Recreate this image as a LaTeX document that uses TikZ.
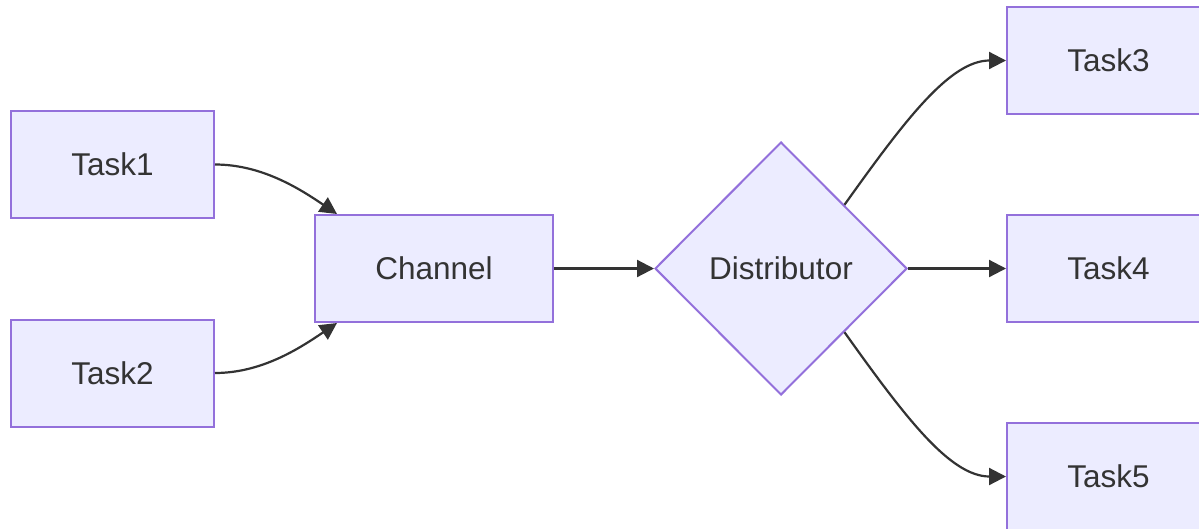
\documentclass[tikz,border=0pt]{standalone}
\usepackage{fontspec}
\setmainfont{Liberation Sans}
\usepackage{xcolor}
\usepackage{tikz}
\usetikzlibrary{shapes,arrows.meta}
\definecolor{boxfill}{HTML}{ECECFF}
\definecolor{boxline}{HTML}{9370DB}
\definecolor{edgeline}{HTML}{333333}
\tikzset{>={Triangle[length=17pt,width=17pt]}}
\tikzset{
    taskbox/.style={
        draw=boxline,
        fill=boxfill,
        line width=2pt,
        minimum width=203pt,
        minimum height=107pt,
        inner sep=0pt,
    },
    chanbox/.style={
        taskbox,
        minimum width=238pt,
    },
    distbox/.style={
        draw=boxline,
        fill=boxfill,
        line width=2pt,
        diamond,
        aspect=1,
        minimum width=252pt,
        minimum height=253pt,
        inner sep=0pt,
    },
    flow/.style={
        ->,
        draw=edgeline,
        line width=2.2pt,
    },
}

\begin{document}
\begin{tikzpicture}[x=1pt, y=-1pt, font=\fontsize{31.5}{38}\selectfont, text=edgeline]
        \useasboundingbox (0,0) rectangle (1199,528);

        % producers
        \node[taskbox] (task1) at (112.5,164.5) {Task1};
        \node[taskbox] (task2) at (112.5,373) {Task2};

        % channel and distributor
        \node[chanbox] (channel) at (434,268.5) {Channel};
        \node[distbox] (distributor) at (781,268.5) {Distributor};

        % consumers
        \node[taskbox] (task3) at (1108.5,60.5) {Task3};
        \node[taskbox] (task4) at (1108.5,268.5) {Task4};
        \node[taskbox] (task5) at (1108.5,476.5) {Task5};

        % edges
        \draw[flow] (task1.east) .. controls (262,164.5) and (300,189) .. ([xshift=23pt]channel.north west);
        \draw[flow] (task2.east) .. controls (262,373) and (300,348) .. ([xshift=23pt]channel.south west);
        \draw[flow] (channel.east) -- (distributor.west);
        \draw[flow] (distributor.north east) .. controls (905,120) and (950,60.5) .. (task3.west);
        \draw[flow] (distributor.east) -- (task4.west);
        \draw[flow] (distributor.south east) .. controls (905,417) and (950,476.5) .. (task5.west);
    \end{tikzpicture}
\end{document}
